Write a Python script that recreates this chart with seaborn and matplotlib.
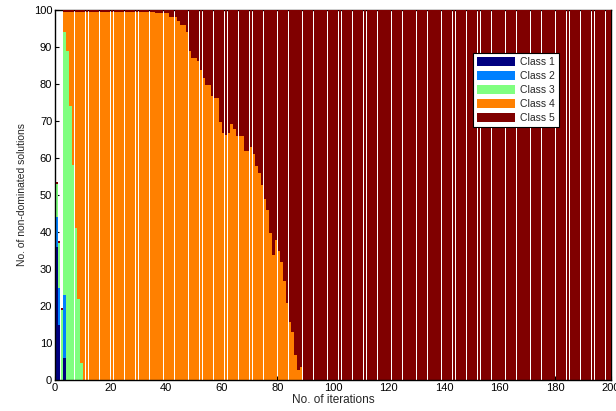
import numpy as np
import pandas as pd
import matplotlib
matplotlib.use("Agg")
import matplotlib.pyplot as plt
from matplotlib.patches import Patch
import seaborn as sns

# ---- data ----
iterations = list(range(200))  # bar i covers [i, i+1]
class_names = ["Class 1", "Class 2", "Class 3", "Class 4", "Class 5"]
class_colors = ["#000080", "#0080FF", "#80FF80", "#FF8000", "#800000"]

class1 = [36, 15, 0, 6] + [0] * 196
class2 = [8, 10, 0, 17] + [0] * 196
class3 = [9, 12, 19, 71, 89, 74, 58, 41, 22, 4.5] + [0] * 190
class4 = ([0, 0, 0, 5.5, 10.5, 25.5, 41.5, 58.5, 77.5, 95.0]
          + [99.5] * 26 + [99.1] * 5 + [98.0] * 3 + [96.9] + [96.0] * 2
          + [94.0, 89.0, 86.9, 86.9, 86.1, 83.8, 81.7, 79.7, 79.7, 76.8,
             76.1, 76.1, 69.7, 66.8, 66.1, 66.8, 69.1, 67.9, 65.9, 65.9,
             65.9, 61.9, 61.9, 62.9, 61.0, 57.8, 56.0, 52.8, 49.0, 45.9,
             39.7, 33.9, 37.8, 34.8, 31.8, 26.8, 20.8, 15.8, 12.9, 6.8,
             2.7, 3.6]
          + [0] * 111)
class5 = ([0.5] * 36 + [0.9] * 5 + [2.0] * 3 + [3.1] + [4.0] * 2
          + [6.0, 11.0, 13.1, 13.1, 13.9, 16.2, 18.3, 20.3, 20.3, 23.2,
             23.9, 23.9, 30.3, 33.2, 33.9, 33.2, 30.9, 32.1, 34.1, 34.1,
             34.1, 38.1, 38.1, 37.1, 39.0, 42.2, 44.0, 47.2, 51.0, 54.1,
             60.3, 66.1, 62.2, 65.2, 68.2, 73.2, 79.2, 84.2, 87.1, 93.2,
             97.3, 96.4]
          + [100] * 111)

x_ticks = list(range(0, 201, 20))
y_ticks = list(range(0, 101, 10))

series = [class1, class2, class3, class4, class5]
frames = []
for name, vals in zip(class_names, series):
    frames.append(pd.DataFrame({"iteration": iterations, "count": vals, "cls": name}))
df = pd.concat(frames, ignore_index=True)

sns.set_style("ticks")
plt.rcParams["font.family"] = ["Liberation Sans", "DejaVu Sans"]

fig = plt.figure(figsize=(6.16, 4.11), dpi=100)
ax = fig.add_axes([0.0893, 0.0754, 0.9027, 0.9003])

palette = dict(zip(class_names, class_colors))
# seaborn stacks the last hue level at the bottom -> reverse order
sns.histplot(data=df, x="iteration", weights="count", hue="cls",
             hue_order=class_names[::-1], palette=palette,
             multiple="stack", bins=200, binrange=(0, 200),
             element="bars", shrink=0.9, linewidth=0, alpha=1,
             legend=False, ax=ax)

ax.set_xlim(0, 200)
ax.set_ylim(0, 100)
ax.set_xticks(x_ticks)
ax.set_yticks(y_ticks)
ax.tick_params(direction="in", length=3, width=0.8, labelsize=8,
               colors="black", pad=2, top=False, right=False)
ax.set_xlabel("No. of iterations", fontsize=8.5, labelpad=1)
ax.set_ylabel("No. of non-dominated solutions", fontsize=7.5, labelpad=5)
for side in ["left", "bottom", "top", "right"]:
    ax.spines[side].set_color("black")
    ax.spines[side].set_linewidth(1.0)
    ax.spines[side].set_visible(True)
ax.spines["top"].set_zorder(0.5)
ax.spines["right"].set_zorder(0.5)

handles = [Patch(facecolor=c, edgecolor="none", label=n)
           for n, c in zip(class_names, class_colors)]
leg = ax.legend(handles=handles, loc="upper left",
                bbox_to_anchor=(0.752, 0.884), fontsize=7.5,
                frameon=True, fancybox=False, framealpha=1,
                edgecolor="black", handlelength=3.6, handleheight=1.0,
                labelspacing=0.35, handletextpad=0.5, borderpad=0.4,
                borderaxespad=0)
leg.get_frame().set_linewidth(0.8)

fig.savefig("out.png", dpi=100)
